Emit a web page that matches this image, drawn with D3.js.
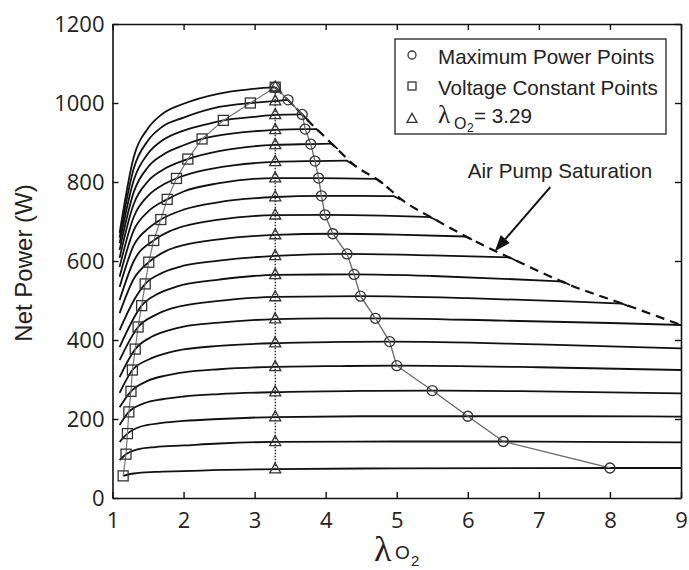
<!DOCTYPE html>
<html><head><meta charset="utf-8">
<script src="https://cdn.jsdelivr.net/npm/d3@7"></script>
<style>body{margin:0;background:#fff}</style>
</head><body>
<svg id="c" width="689" height="570"></svg>
<script>
// ---------- data ----------
const xTicks = [1,2,3,4,5,6,7,8,9];
const yTicks = [0,200,400,600,800,1000,1200];

// net power curves (lambda_O2, W), bottom to top
const netPowerCurves = [
 [[1.15,56],[1.3,62],[1.6,66],[2.0,68],[2.5,71],[3.29,73],[5.0,75],[8.0,76],[9.0,76]],
 [[1.1,96],[1.19,111],[1.35,123],[1.6,129],[2.0,133],[2.5,138],[3.29,142],[5.0,143],[6.5,143],[9.0,141]],
 [[1.1,142],[1.21,163],[1.4,181],[1.7,190],[2.0,195],[2.5,200],[3.29,205],[4.5,207],[6.0,207],[7.5,207],[9.0,206]],
 [[1.1,185],[1.23,218],[1.45,240],[1.7,250],[2.0,257],[2.5,263],[3.29,268],[4.5,271],[5.5,272],[7.0,270],[9.0,265]],
 [[1.1,230],[1.26,270],[1.5,297],[1.75,310],[2.0,318],[2.5,326],[3.29,332],[4.2,334],[5.0,335],[7.0,331],[9.0,324]],
 [[1.1,266],[1.28,324],[1.5,350],[1.75,366],[2.0,376],[2.5,385],[3.29,392],[4.2,395],[4.9,396],[7.0,389],[9.0,379]],
 [[1.1,306],[1.32,377],[1.55,408],[1.8,425],[2.0,434],[2.5,444],[3.29,453],[4.0,455],[4.7,455],[6.5,449],[8.0,443],[9.0,438]],
 [[1.1,349],[1.36,433],[1.6,463],[1.8,478],[2.0,487],[2.5,499],[3.29,509],[4.49,511],[6.0,506],[7.5,497],[8.17,492]],
 [[1.1,382],[1.41,487],[1.65,518],[1.85,532],[2.0,540],[2.5,553],[3.29,565],[4.4,566],[5.5,562],[6.5,555],[7.34,548]],
 [[1.1,425],[1.3,500],[1.46,542],[1.7,570],[2.0,588],[2.5,601],[3.29,613],[4.3,618],[5.5,614],[6.59,609]],
 [[1.1,468],[1.3,555],[1.51,597],[1.75,625],[2.0,640],[2.5,655],[3.29,666],[4.1,669],[5.0,667],[5.96,662]],
 [[1.1,501],[1.3,600],[1.58,652],[1.8,675],[2.0,688],[2.5,705],[3.29,716],[3.99,717],[4.8,715],[5.47,711]],
 [[1.1,534],[1.3,640],[1.5,682],[1.68,705],[2.0,730],[2.5,749],[3.29,762],[3.94,765],[4.5,765],[4.96,764]],
 [[1.1,560],[1.3,678],[1.5,725],[1.77,756],[2.0,776],[2.5,797],[3.29,810],[3.9,810],[4.71,808]],
 [[1.1,585],[1.3,712],[1.5,765],[1.7,792],[1.9,809],[2.2,826],[2.7,842],[3.29,851],[3.85,853],[4.30,854]],
 [[1.1,608],[1.3,745],[1.5,802],[1.7,830],[2.06,858],[2.5,878],[3.29,894],[3.79,896],[4.08,897]],
 [[1.1,628],[1.3,775],[1.5,838],[1.7,868],[2.0,893],[2.26,909],[2.7,923],[3.29,932],[3.71,934],[3.87,934]],
 [[1.1,645],[1.3,805],[1.5,872],[1.7,905],[2.0,930],[2.3,945],[2.56,956],[3.0,965],[3.29,970],[3.67,971]],
 [[1.1,659],[1.3,835],[1.5,905],[1.7,940],[2.0,963],[2.5,990],[2.94,1000],[3.29,1005],[3.47,1008]],
 [[1.1,671],[1.3,864],[1.5,936],[1.7,972],[2.0,998],[2.5,1024],[2.94,1035],[3.29,1040]]
];
// short bend of each curve onto the saturation line (null = none)
const curveHooks = [null,null,null,null,null,null,null,
 [8.27,485],[7.43,540],[6.69,600],[6.05,655],[5.56,703],[5.05,756],[4.80,797],[4.38,845],[4.16,885],[3.96,920],[3.76,955],[3.55,993],null];

// Maximum Power Points
const maxPowerLambda = [8.0,6.5,6.0,5.5,5.0,4.9,4.7,4.49,4.4,4.3,4.1,3.99,3.94,3.9,3.85,3.79,3.71,3.67,3.47,3.29];
const maxPowerP      = [76,143,207,272,335,396,455,511,566,618,669,717,765,810,853,896,934,971,1008,1040];
// Voltage Constant Points
const voltLambda = [1.15,1.19,1.21,1.23,1.26,1.28,1.32,1.36,1.41,1.46,1.51,1.58,1.68,1.77,1.9,2.06,2.26,2.56,2.94,3.29];
const voltP      = [56,111,163,218,270,324,377,433,487,542,597,652,705,756,809,858,909,956,1000,1040];
// lambda_O2 = 3.29 points
const fixedLambda = 3.29;
const fixedP = [73,142,205,268,332,392,453,509,565,613,666,716,762,810,851,894,932,970,1005,1040];
// Air pump saturation (dashed)
const satLambda = [3.29,3.55,3.76,3.96,4.16,4.38,4.80,5.05,5.56,6.05,6.69,7.43,8.27,9.0];
const satP      = [1040,993,954,919,884,846,797,758,703,655,600,540,486,438];

const legendLabels = ["Maximum Power Points","Voltage Constant Points"];
const annotText = "Air Pump Saturation";

// ---------- drawing ----------
const svg = d3.select("#c");
const x = d3.scaleLinear().domain([1,9]).range([112.5,681]);
const y = d3.scaleLinear().domain([0,1200]).range([498,24]);
const tickFont = "'Open Sans', sans-serif";
const sansFont = "'Liberation Sans', Arial, sans-serif";
const serifFont = "'Liberation Serif', 'Times New Roman', serif";

const smooth = d3.line().x(d=>x(d[0])).y(d=>y(d[1])).curve(d3.curveMonotoneX);
const straight = d3.line().x(d=>x(d[0])).y(d=>y(d[1]));

// curves
const gc = svg.append("g");
netPowerCurves.forEach((pts,i)=>{
  gc.append("path").attr("d",smooth(pts)).attr("fill","none").attr("stroke","#111").attr("stroke-width",1.8);
  if (curveHooks[i]) {
    gc.append("path").attr("d",straight([pts[pts.length-1],curveHooks[i]]))
      .attr("fill","none").attr("stroke","#111").attr("stroke-width",1.8).attr("stroke-linecap","round");
  }
});

// saturation dashed line
svg.append("path").attr("d",smooth(satLambda.map((l,i)=>[l,satP[i]])))
  .attr("fill","none").attr("stroke","#111").attr("stroke-width",2.2).attr("stroke-dasharray","9,6");

// connecting lines
const maxPts = maxPowerLambda.map((l,i)=>[l,maxPowerP[i]]);
const voltPts = voltLambda.map((l,i)=>[l,voltP[i]]);
const fixPts = fixedP.map(p=>[fixedLambda,p]);
svg.append("path").attr("d",straight(maxPts)).attr("fill","none").attr("stroke","#666").attr("stroke-width",1.3);
svg.append("path").attr("d",straight(voltPts)).attr("fill","none").attr("stroke","#777").attr("stroke-width",1.2);
svg.append("path").attr("d",straight([fixPts[0],fixPts[fixPts.length-1]])).attr("fill","none")
  .attr("stroke","#222").attr("stroke-width",1.3).attr("stroke-dasharray","1.5,1.5");

// markers
const mk = svg.append("g").attr("fill","none").attr("stroke","#333").attr("stroke-width",1.3);
const triPath = s => `M0,${-s*0.62}L${s*0.55},${s*0.38}L${-s*0.55},${s*0.38}Z`;
fixPts.forEach(d=>mk.append("path").attr("d",triPath(10)).attr("transform",`translate(${x(d[0])},${y(d[1])})`));
voltPts.forEach(d=>mk.append("rect").attr("x",x(d[0])-5).attr("y",y(d[1])-5).attr("width",10).attr("height",10));
maxPts.forEach(d=>mk.append("circle").attr("cx",x(d[0])).attr("cy",y(d[1])).attr("r",5));

// axes
function styleAxis(g){
  g.select(".domain").attr("stroke","#111").attr("stroke-width",1.6);
  g.selectAll(".tick line").attr("stroke","#111").attr("stroke-width",1.4);
  g.selectAll(".tick text").attr("font-family",tickFont).attr("font-size",22).attr("fill","#222");
}
svg.append("g").attr("transform",`translate(0,${y(0)})`)
  .call(d3.axisBottom(x).tickValues(xTicks).tickSizeInner(-6).tickSizeOuter(0).tickPadding(14).tickFormat(d3.format("d")))
  .call(styleAxis);
svg.append("g").attr("transform",`translate(${x(1)},0)`)
  .call(d3.axisLeft(y).tickValues(yTicks).tickSizeInner(-6).tickSizeOuter(0).tickPadding(8).tickFormat(d3.format("d")))
  .call(styleAxis);
svg.append("g").attr("transform",`translate(0,${y(1200)})`)
  .call(d3.axisTop(x).tickValues(xTicks).tickSizeInner(-6).tickSizeOuter(0).tickFormat(""))
  .call(styleAxis);
svg.append("g").attr("transform",`translate(${x(9)},0)`)
  .call(d3.axisRight(y).tickValues(yTicks).tickSizeInner(-6).tickSizeOuter(0).tickFormat(""))
  .call(styleAxis);

// axis titles
svg.append("text").attr("transform",`translate(32,${(y(0)+y(1200))/2+2}) rotate(-90)`)
  .attr("text-anchor","middle").attr("font-family",sansFont).attr("font-size",24).attr("fill","#222")
  .text("Net Power (W)");
const xl = svg.append("g").attr("fill","#222");
xl.append("text").attr("x",374).attr("y",561).attr("font-family",serifFont).attr("font-size",36).text("λ");
xl.append("text").attr("x",395).attr("y",559).attr("font-family",sansFont).attr("font-size",19).text("O");
xl.append("text").attr("x",411).attr("y",566).attr("font-family",sansFont).attr("font-size",15).text("2");

// legend
const lg = svg.append("g");
lg.append("rect").attr("x",395).attr("y",39).attr("width",271).attr("height",95)
  .attr("fill","#fff").attr("stroke","#222").attr("stroke-width",1.3);
const lm = lg.append("g").attr("fill","none").attr("stroke","#333").attr("stroke-width",1.3);
lm.append("circle").attr("cx",412).attr("cy",55).attr("r",4);
lm.append("rect").attr("x",408).attr("y",82).attr("width",8).attr("height",8);
lm.append("path").attr("d",triPath(9)).attr("transform","translate(412,119)");
legendLabels.forEach((t,i)=>lg.append("text").attr("x",438).attr("y",64+i*31)
  .attr("font-family",sansFont).attr("font-size",20.6).attr("fill","#222").text(t));
lg.append("text").attr("x",438).attr("y",123).attr("font-family",serifFont).attr("font-size",25).attr("fill","#222").text("λ");
lg.append("text").attr("x",454).attr("y",129).attr("font-family",sansFont).attr("font-size",16).attr("fill","#222").text("O");
lg.append("text").attr("x",467).attr("y",132).attr("font-family",sansFont).attr("font-size",12).attr("fill","#222").text("2");
lg.append("text").attr("x",474).attr("y",123).attr("font-family",sansFont).attr("font-size",20.6).attr("fill","#222")
  .text("= " + fixedLambda.toFixed(2));

// annotation
svg.append("text").attr("x",x(6.0)).attr("y",y(810)).attr("font-family",sansFont).attr("font-size",20.6)
  .attr("fill","#222").text(annotText);
const tail=[x(7.16),y(787)], tip=[x(6.38),y(625)];
const dx=tip[0]-tail[0], dy=tip[1]-tail[1], L=Math.hypot(dx,dy), ux=dx/L, uy=dy/L;
const hl=16, hw=6;
const bx=tip[0]-ux*hl, by=tip[1]-uy*hl;
svg.append("line").attr("x1",tail[0]).attr("y1",tail[1]).attr("x2",bx).attr("y2",by)
  .attr("stroke","#111").attr("stroke-width",2);
svg.append("path").attr("d",`M${tip[0]},${tip[1]}L${bx-uy*hw},${by+ux*hw}L${bx+uy*hw},${by-ux*hw}Z`).attr("fill","#111");
</script>
</body></html>
